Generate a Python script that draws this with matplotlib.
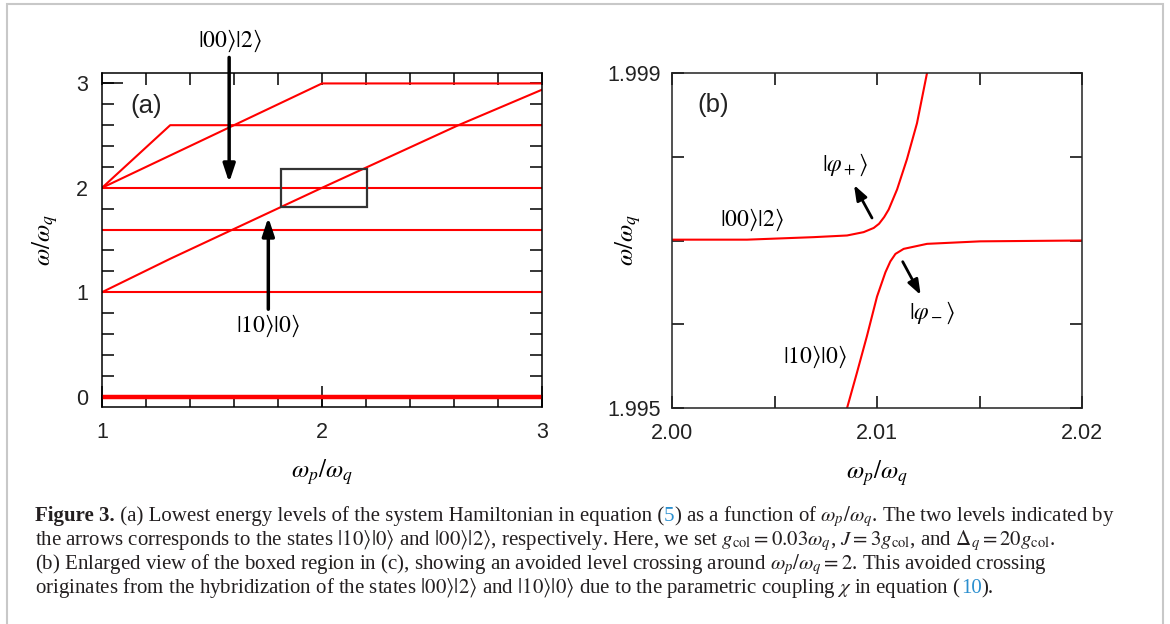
import matplotlib
matplotlib.use("Agg")
import matplotlib.pyplot as plt
from matplotlib.patches import Rectangle
from matplotlib.ticker import MultipleLocator, FixedLocator

plt.rcParams['mathtext.fontset'] = 'stix'
plt.rcParams['font.family'] = ['Liberation Sans', 'DejaVu Sans']

# ---- panel (a): energy levels vs wp/wq ----
flat_levels = [1.0, 1.6, 2.0]
ground_level = 0.0
level_26_x = [1.0, 1.31, 3.0]
level_26_y = [2.0, 2.6, 2.6]
level_3_x = [1.0, 2.0, 3.0]
level_3_y = [2.0, 3.0, 3.0]
diag_x = [1.0, 1.31, 2.0, 2.62, 3.0]
diag_y = [1.0, 1.32, 2.0, 2.6, 2.94]
box_x = [1.813, 2.205]
box_y = [1.812, 2.179]

# ---- panel (b): avoided crossing ----
upper_x = [2.0, 2.00366, 2.00691, 2.00854, 2.00935, 2.00984, 2.01010, 2.01035,
           2.01057, 2.01098, 2.01146, 2.01195, 2.01244]
upper_y = [1.99701, 1.99701, 1.99704, 1.99706, 1.99710, 1.99715, 1.99720, 1.99728,
           1.99737, 1.99761, 1.99797, 1.99840, 1.99900]
lower_x = [2.00854, 2.00902, 2.00951, 2.0100, 2.01041, 2.01065, 2.01090, 2.0113,
           2.01244, 2.01504, 2.0200]
lower_y = [1.99500, 1.99542, 1.99586, 1.99633, 1.99662, 1.99675, 1.99684, 1.99690,
           1.99696, 1.99699, 1.99700]

RED = '#ff0000'

fig = plt.figure(figsize=(11.7, 6.24), dpi=100)

# light gray frame around the figure
fig.patches.append(Rectangle((7 / 1170, -0.1), 1156 / 1170, 1.1 - 4 / 624,
                             transform=fig.transFigure, fill=False,
                             edgecolor='#c8c8c8', lw=1.5))

# ================= panel (a) =================
ax1 = fig.add_axes([102 / 1170, 1 - 407 / 624, 440 / 1170, 334 / 624])
for y in flat_levels:
    ax1.plot([1, 3], [y, y], color=RED, lw=1.5)
ax1.plot([1, 3], [ground_level, ground_level], color=RED, lw=3.2)
ax1.plot(level_26_x, level_26_y, color=RED, lw=1.5)
ax1.plot(level_3_x, level_3_y, color=RED, lw=1.5)
ax1.plot(diag_x, diag_y, color=RED, lw=1.5)
ax1.add_patch(Rectangle((box_x[0], box_y[0]), box_x[1] - box_x[0], box_y[1] - box_y[0],
                        fill=False, edgecolor='#333333', lw=1.6, zorder=5))

ax1.set_xlim(1, 3)
ax1.set_ylim(-0.1, 3.1)
ax1.xaxis.set_major_locator(FixedLocator([1, 2, 3]))
ax1.yaxis.set_major_locator(FixedLocator([0, 1, 2, 3]))
ax1.xaxis.set_minor_locator(MultipleLocator(0.2))
ax1.yaxis.set_minor_locator(MultipleLocator(0.2))
ax1.xaxis.remove_overlapping_locs = False
ax1.yaxis.remove_overlapping_locs = False
ax1.tick_params(which='major', direction='in', length=15, width=1.1,
                top=False, right=False, pad=10, labelsize=15.5, labelcolor='#222222')
ax1.tick_params(which='minor', direction='in', length=8.6, width=1.1,
                top=True, right=True)
ax1.tick_params(axis='x', which='major', pad=11)
for s in ax1.spines.values():
    s.set_linewidth(1.1)

ax1.text(1.202, 2.78, '(a)', fontsize=18.5, ha='center', va='center', color='#222222')
ax1.text(1.581, 3.41, r'$|00\rangle|2\rangle$', fontsize=17, ha='center', va='center',
         clip_on=False)
ax1.text(1.756, 0.677, r'$|10\rangle|0\rangle$', fontsize=17, ha='center', va='center')
big_arrow = dict(arrowstyle='-|>,head_length=0.6,head_width=0.2', color='k',
                 lw=2.5, mutation_scale=18, shrinkA=0, shrinkB=0)
ax1.annotate('', xy=(1.578, 2.051), xytext=(1.578, 3.249), arrowprops=big_arrow,
             annotation_clip=False)
ax1.annotate('', xy=(1.756, 1.716), xytext=(1.756, 0.837), arrowprops=big_arrow,
             annotation_clip=False)

ax1.set_xlabel(r'$\omega_p/\omega_q$', fontsize=18)
ax1.set_ylabel(r'$\omega/\omega_q$', fontsize=18)
ax1.xaxis.set_label_coords(0.5, -0.15)
ax1.yaxis.set_label_coords(-0.095, 0.5)

# ================= panel (b) =================
ax2 = fig.add_axes([672 / 1170, 1 - 408 / 624, 410 / 1170, 335 / 624])
ax2.plot(upper_x, upper_y, color=RED, lw=1.5)
ax2.plot(lower_x, lower_y, color=RED, lw=1.5)
ax2.set_xlim(2.0, 2.02)
ax2.set_ylim(1.995, 1.999)
ax2.xaxis.set_major_locator(FixedLocator([2.0, 2.01, 2.02]))
ax2.xaxis.set_minor_locator(FixedLocator([2.005, 2.015]))
ax2.yaxis.set_major_locator(FixedLocator([1.995, 1.999]))
ax2.yaxis.set_minor_locator(FixedLocator([1.996, 1.997, 1.998]))
ax2.set_xticklabels(['2.00', '2.01', '2.02'])
ax2.set_yticklabels(['1.995', '1.999'])
ax2.tick_params(which='both', direction='in', length=8.6, width=1.1,
                top=True, right=True, labelsize=15.5, labelcolor='#222222')
ax2.tick_params(axis='y', which='major', pad=8)
ax2.tick_params(axis='x', which='major', pad=11)
for s in ax2.spines.values():
    s.set_linewidth(1.1)
    s.set_color('#222222')

ax2.text(2.002016, 1.998618, '(b)', fontsize=18.5, ha='center', va='center', color='#222222')
ax2.text(2.00844, 1.997901, r'$|\varphi_+\rangle$', fontsize=17, ha='center', va='center')
ax2.text(2.003888, 1.997245, r'$|00\rangle|2\rangle$', fontsize=17, ha='center', va='center')
ax2.text(2.012667, 1.996131, r'$|\varphi_-\rangle$', fontsize=17, ha='center', va='center')
ax2.text(2.006976, 1.995613, r'$|10\rangle|0\rangle$', fontsize=17, ha='center', va='center')
small_arrow = dict(arrowstyle='-|>,head_length=0.6,head_width=0.22', color='k',
                   lw=2.0, mutation_scale=15, shrinkA=0, shrinkB=0)
ax2.annotate('', xy=(2.008878, 1.997663), xytext=(2.009756, 1.997269), arrowprops=small_arrow)
ax2.annotate('', xy=(2.012131, 1.996349), xytext=(2.011254, 1.996747), arrowprops=small_arrow)

ax2.set_xlabel(r'$\omega_p/\omega_q$', fontsize=18)
ax2.set_ylabel(r'$\omega/\omega_q$', fontsize=18)
ax2.xaxis.set_label_coords(0.5, -0.15)
ax2.yaxis.set_label_coords(-0.071, 0.5)

for ax in (ax1, ax2):
    for lab in ax.get_xticklabels() + ax.get_yticklabels():
        lab.set_family('Liberation Sans')

# ================= caption =================
CAP = '#231f20'
BLUE = '#2b8fcf'
caption_lines = [
    [('Figure 3.', CAP, 'bold'),
     (' (a) Lowest energy levels of the system Hamiltonian in equation (', CAP, 'normal'),
     ('5', BLUE, 'normal'),
     (r') as a function of $\omega_p/\omega_q$. The two levels indicated by', CAP, 'normal')],
    [(r'the arrows corresponds to the states $|10\rangle|0\rangle$ and $|00\rangle|2\rangle$, '
      r'respectively. Here, we set $g_{\rm col}=0.03\omega_q$, $J=3g_{\rm col}$, and '
      r'$\Delta_q=20g_{\rm col}$.', CAP, 'normal')],
    [(r'(b) Enlarged view of the boxed region in (c), showing an avoided level crossing '
      r'around $\omega_p/\omega_q=2$. This avoided crossing', CAP, 'normal')],
    [(r'originates from the hybridization of the states $|00\rangle|2\rangle$ and '
      r'$|10\rangle|0\rangle$ due to the parametric coupling $\chi$ in equation (', CAP, 'normal'),
     ('10', BLUE, 'normal'),
     (').', CAP, 'normal')],
]
renderer = fig.canvas.get_renderer()
baselines = [521, 545, 569, 593]
for line, yb in zip(caption_lines, baselines):
    x = 35
    for txt, col, wt in line:
        t = fig.text(x / 1170, 1 - yb / 624, txt, color=col, fontweight=wt,
                     family='Liberation Serif', fontsize=15.0, va='baseline', ha='left')
        x += t.get_window_extent(renderer).width

fig.savefig('out.png', dpi=100)
